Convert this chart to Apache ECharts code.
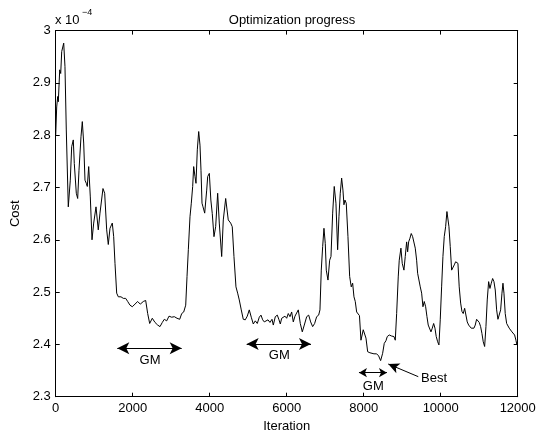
<!DOCTYPE html>
<html><head><meta charset="utf-8">
<script src="https://cdn.jsdelivr.net/npm/echarts@6/dist/echarts.min.js"></script>
<style>html,body{margin:0;padding:0;background:#fff}#c{width:547px;height:431px}</style>
</head><body><div id="c"></div>
<script>
// ---- data (cost in units of 1e-4) ----
const iterations = [0,26,52,68,104,130,156,208,241,275,327,379,415,457,483,535,571,605,657,691,727,761,795,821,857,899,943,987,1047,1106,1150,1228,1272,1324,1366,1410,1470,1506,1540,1584,1626,1696,1756,1818,1870,1930,1989,2059,2129,2197,2275,2337,2389,2441,2509,2579,2649,2709,2769,2821,2883,2943,3013,3081,3151,3221,3273,3325,3377,3411,3445,3488,3522,3558,3584,3618,3644,3678,3714,3748,3774,3800,3826,3870,3922,3948,3990,4030,4067,4111,4155,4207,4249,4311,4353,4415,4482,4545,4586,4630,4682,4726,4768,4820,4872,4924,4976,5028,5080,5132,5184,5236,5288,5332,5376,5418,5462,5514,5566,5618,5652,5704,5756,5800,5834,5870,5911,5955,5999,6041,6085,6129,6171,6215,6259,6301,6353,6405,6457,6519,6571,6622,6674,6726,6778,6830,6864,6898,6934,6968,7002,7028,7072,7116,7150,7194,7235,7279,7323,7357,7391,7427,7461,7487,7513,7547,7591,7635,7677,7713,7747,7781,7817,7860,7890,7929,7988,8033,8059,8103,8162,8207,8266,8336,8388,8440,8492,8534,8578,8612,8664,8726,8786,8820,8856,8897,8923,8967,9001,9045,9079,9115,9141,9167,9201,9235,9271,9305,9339,9375,9401,9435,9469,9505,9539,9573,9609,9643,9676,9713,9747,9781,9817,9851,9884,9921,9954,9988,10024,10058,10092,10128,10162,10188,10214,10248,10284,10318,10352,10388,10422,10448,10481,10518,10552,10585,10622,10655,10689,10726,10759,10793,10830,10863,10897,10933,10967,11001,11037,11071,11105,11141,11175,11209,11245,11279,11313,11349,11383,11417,11453,11487,11521,11557,11591,11617,11643,11676,11713,11747,11780,11817,11850,11884,11920,11954,11980,12000];
const cost = [2.800,2.854,2.874,2.864,2.925,2.918,2.960,2.976,2.931,2.810,2.663,2.714,2.778,2.791,2.746,2.689,2.679,2.733,2.797,2.826,2.785,2.714,2.708,2.702,2.740,2.682,2.600,2.632,2.663,2.619,2.651,2.698,2.689,2.619,2.591,2.622,2.632,2.606,2.555,2.498,2.491,2.491,2.488,2.488,2.482,2.475,2.472,2.477,2.482,2.477,2.482,2.484,2.459,2.440,2.450,2.442,2.437,2.434,2.442,2.448,2.445,2.454,2.452,2.453,2.450,2.448,2.459,2.462,2.475,2.530,2.581,2.644,2.670,2.702,2.740,2.721,2.708,2.772,2.807,2.781,2.733,2.670,2.663,2.651,2.695,2.721,2.727,2.676,2.650,2.606,2.625,2.689,2.632,2.568,2.638,2.679,2.638,2.632,2.625,2.568,2.510,2.498,2.485,2.466,2.448,2.447,2.454,2.466,2.452,2.439,2.445,2.440,2.452,2.456,2.447,2.443,2.440,2.447,2.442,2.448,2.437,2.453,2.456,2.447,2.439,2.450,2.447,2.454,2.450,2.459,2.453,2.462,2.443,2.454,2.453,2.466,2.440,2.424,2.437,2.453,2.456,2.443,2.434,2.440,2.453,2.456,2.466,2.542,2.587,2.622,2.593,2.542,2.523,2.561,2.568,2.651,2.702,2.670,2.581,2.644,2.689,2.718,2.695,2.667,2.676,2.670,2.606,2.530,2.510,2.517,2.491,2.482,2.462,2.459,2.455,2.408,2.428,2.429,2.412,2.386,2.384,2.386,2.382,2.382,2.378,2.369,2.383,2.402,2.407,2.415,2.418,2.416,2.415,2.408,2.459,2.529,2.561,2.584,2.555,2.542,2.568,2.596,2.577,2.596,2.603,2.612,2.606,2.603,2.584,2.561,2.536,2.533,2.510,2.498,2.472,2.482,2.472,2.453,2.437,2.437,2.424,2.431,2.440,2.431,2.415,2.405,2.399,2.447,2.510,2.568,2.606,2.625,2.654,2.654,2.625,2.587,2.542,2.545,2.552,2.558,2.561,2.555,2.510,2.479,2.463,2.459,2.469,2.466,2.443,2.437,2.440,2.431,2.431,2.431,2.437,2.448,2.448,2.442,2.434,2.421,2.405,2.396,2.434,2.485,2.520,2.507,2.517,2.526,2.520,2.504,2.466,2.448,2.449,2.466,2.498,2.517,2.498,2.459,2.440,2.437,2.431,2.429,2.424,2.424,2.418,2.408,2.399,2.399];

// annotations: [x start, x end, y]
const gmArrows = [[1600,3272,2.3925],[4960,6630,2.4008],[7877,8604,2.346]];
const gmLabels = [[2449,2.370],[5807,2.378],[8248,2.3205]];
const bestArrow = [[9417,2.3383],[8638,2.3625]]; // tail, tip
const bestLabel = [9826,2.3344];

const xMin = 0, xMax = 12000, xStep = 2000;
const yMin = 2.3, yMax = 3.0, yStep = 0.1;

const FONT = 'Liberation Sans';
const chart = echarts.init(document.getElementById('c'), null, {renderer:'canvas'});

const axisCommon = {
  axisLine:{show:true,onZero:false,lineStyle:{color:'#000',width:1}},
  axisTick:{show:true,inside:true,length:4,lineStyle:{color:'#000'}},
  splitLine:{show:false}
};

const arrowLines = gmArrows.map((a,i)=>{
  const s = i===2 ? [7,8] : [9,12];
  return [{coord:[a[0],a[2]],symbol:'arrow',symbolSize:s},{coord:[a[1],a[2]],symbol:'arrow',symbolSize:s}];
});
arrowLines.push([{coord:bestArrow[0],symbol:'none'},{coord:bestArrow[1],symbol:'arrow',symbolSize:[8,11]}]);

const labelPts = gmLabels.map(p=>({name:'GM',coord:p}));
labelPts.push({name:'Best',coord:bestLabel});

chart.setOption({
  animation:false,
  backgroundColor:'#fff',
  title:{text:'Optimization progress',left:287,top:9,textAlign:'center',
    textStyle:{fontFamily:FONT,fontSize:13,fontWeight:'normal',color:'#000'}},
  grid:{left:55.7,right:29.3,top:30.6,bottom:34.3,containLabel:false,outerBoundsMode:'none'},
  xAxis:[
    Object.assign({type:'value',min:xMin,max:xMax,interval:xStep,position:'bottom',
      name:'Iteration',nameLocation:'middle',nameGap:21,
      nameTextStyle:{fontFamily:FONT,fontSize:13,color:'#000'},
      axisLabel:{fontFamily:FONT,fontSize:13,color:'#000',margin:5,formatter:v=>String(v)}},axisCommon),
    Object.assign({type:'value',min:xMin,max:xMax,interval:xStep,position:'top',
      axisLabel:{show:false}},axisCommon)
  ],
  yAxis:[
    Object.assign({type:'value',min:yMin,max:yMax,interval:yStep,position:'left',
      name:'Cost',nameLocation:'middle',nameGap:29,
      nameTextStyle:{fontFamily:FONT,fontSize:13,color:'#000'},
      axisLabel:{fontFamily:FONT,fontSize:13,color:'#000',margin:5,
        formatter:v=>String(Math.round(v*10)/10)}},axisCommon),
    Object.assign({type:'value',min:yMin,max:yMax,interval:yStep,position:'right',
      axisLabel:{show:false}},axisCommon)
  ],
  graphic:[
    {type:'text',left:55,top:14,style:{text:'x 10',font:'13px "Liberation Sans"',fill:'#000'}},
    {type:'text',left:82,top:8,style:{text:'\u22124',font:'9px "Liberation Sans"',fill:'#000'}}
  ],
  series:[{
    type:'line',
    data:iterations.map((x,i)=>[x,cost[i]]),
    showSymbol:false,symbol:'none',
    lineStyle:{color:'#000',width:1},
    itemStyle:{color:'#000'},
    silent:true,
    markLine:{
      silent:true,
      label:{show:false},
      lineStyle:{color:'#000',width:1,type:'solid'},
      emphasis:{disabled:true},
      data:arrowLines
    },
    markPoint:{
      silent:true,
      symbol:'circle',symbolSize:0,
      itemStyle:{color:'rgba(0,0,0,0)'},
      label:{show:true,position:'inside',formatter:'{b}',fontFamily:FONT,fontSize:13,color:'#000'},
      data:labelPts
    }
  }]
});
</script>
</body></html>
